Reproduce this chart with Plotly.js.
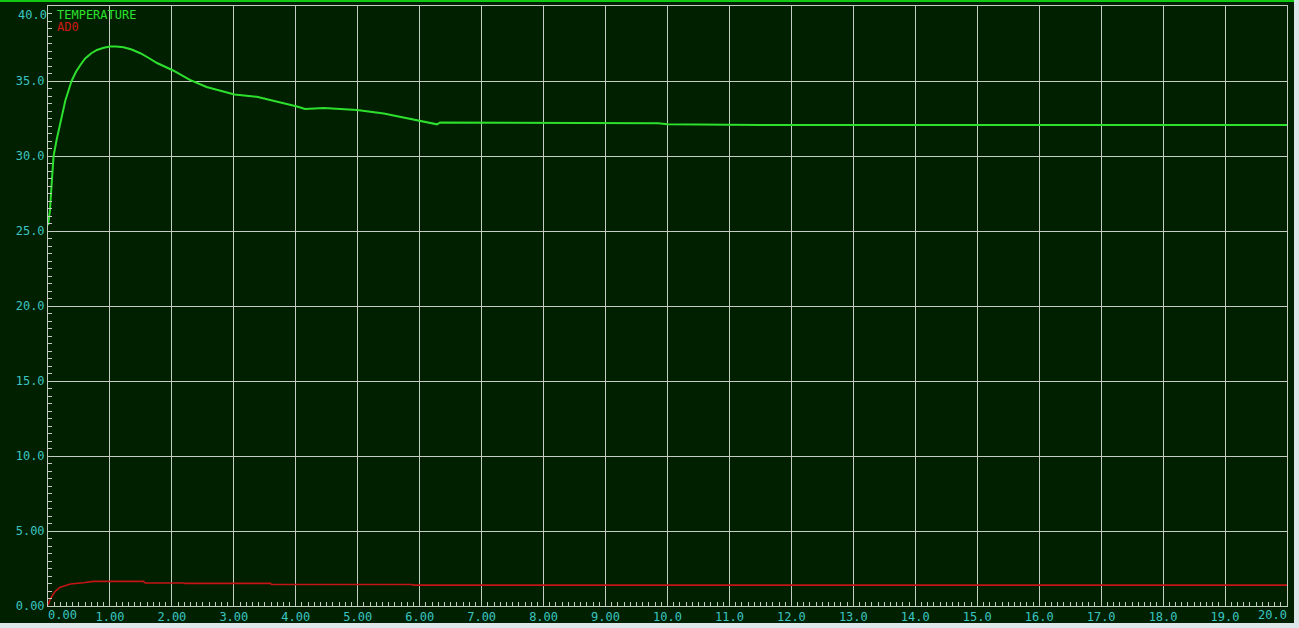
<!DOCTYPE html>
<html>
<head>
<meta charset="utf-8">
<script src="https://cdn.plot.ly/plotly-3.0.1.min.js"></script>
<style>
  html, body { margin: 0; padding: 0; background: #dde6e8; }
  #chart { width: 1294px; height: 621px; border-top: 2px solid #12c812; background: #002000; }
</style>
</head>
<body>
<div id="chart"></div>
<script>
// ---- data ----
const tempTime = [0, 0.03, 0.06, 0.09, 0.14, 0.2, 0.28, 0.38, 0.45, 0.52, 0.6, 0.7, 0.79, 0.9, 1.0, 1.1, 1.22, 1.35, 1.49, 1.62, 1.76, 2.02, 2.29, 2.56, 3.01, 3.37, 3.64, 4.02, 4.15, 4.45, 4.72, 4.99, 5.42, 6.01, 6.28, 6.33, 9.08, 9.4, 9.85, 10.0, 11.5, 20.0];
const tempVals = [25.4, 26.3, 28.2, 30.0, 31.1, 32.3, 33.7, 35.0, 35.6, 36.05, 36.5, 36.85, 37.07, 37.22, 37.3, 37.3, 37.25, 37.1, 36.85, 36.55, 36.2, 35.7, 35.07, 34.6, 34.1, 33.95, 33.7, 33.3, 33.13, 33.2, 33.13, 33.07, 32.84, 32.35, 32.11, 32.24, 32.23, 32.18, 32.18, 32.11, 32.07, 32.07];

const adTime = [0, 0.02, 0.06, 0.11, 0.19, 0.36, 0.57, 0.73, 1.54, 1.57, 2.19, 2.21, 3.59, 3.61, 5.88, 5.9, 20.0];
const adVals = [0.05, 0.3, 0.62, 0.95, 1.24, 1.47, 1.55, 1.64, 1.64, 1.53, 1.53, 1.51, 1.51, 1.43, 1.43, 1.39, 1.39];

const xTickVals = [1, 2, 3, 4, 5, 6, 7, 8, 9, 10, 11, 12, 13, 14, 15, 16, 17, 18, 19];
const xTickText = ["1.00", "2.00", "3.00", "4.00", "5.00", "6.00", "7.00", "8.00", "9.00", "10.0", "11.0", "12.0", "13.0", "14.0", "15.0", "16.0", "17.0", "18.0", "19.0"];
const xFirstVal = [0], xFirstText = ["0.00"];
const xLastVal = [20], xLastText = ["20.0"];

const yTickVals = [0, 5, 10, 15, 20, 25, 30, 35];
const yTickText = ["0.00", "5.00", "10.0", "15.0", "20.0", "25.0", "30.0", "35.0"];
const yTopVal = [40], yTopText = ["40.0"];

const seriesNames = ["TEMPERATURE", "AD0"];

// ---- styling ----
const BG = "#002000";
const GRID = "#c4ccc4";
const LABEL = "#3cc4c0";
const FONT = "DejaVu Sans Mono, Liberation Mono, monospace";
const tickFont = { family: FONT, size: 12, color: LABEL };

const traces = [
  { x: tempTime, y: tempVals, type: "scatter", mode: "lines", name: seriesNames[0],
    line: { color: "#2ee02e", width: 2 }, hoverinfo: "skip" },
  { x: adTime, y: adVals, type: "scatter", mode: "lines", name: seriesNames[1],
    line: { color: "#c41414", width: 1.6 }, hoverinfo: "skip" },
  { x: [], y: [], xaxis: "x2", yaxis: "y", showlegend: false, hoverinfo: "skip" },
  { x: [], y: [], xaxis: "x3", yaxis: "y", showlegend: false, hoverinfo: "skip" },
  { x: [], y: [], xaxis: "x", yaxis: "y2", showlegend: false, hoverinfo: "skip" }
];

const xRange = [0, 20];
const yRange = [0, 40];

const layout = {
  width: 1294, height: 621,
  margin: { l: 48, r: 7, t: 4, b: 17 },
  paper_bgcolor: BG, plot_bgcolor: BG,
  showlegend: false,
  xaxis: {
    range: xRange, tickmode: "array", tickvals: xTickVals, ticktext: xTickText,
    tickfont: tickFont, ticks: "inside", ticklen: 0,
    showgrid: true, gridcolor: GRID, gridwidth: 1,
    showline: true, linecolor: GRID, linewidth: 1, mirror: true,
    zeroline: false, fixedrange: true,
    minor: { dtick: 0.1, ticks: "inside", ticklen: 4, tickcolor: GRID, showgrid: false }
  },
  xaxis2: {
    overlaying: "x", range: xRange, tickmode: "array", tickvals: xFirstVal, ticktext: xFirstText,
    tickfont: tickFont, ticklabelposition: "outside right", ticks: "", showgrid: false,
    showline: false, zeroline: false, fixedrange: true
  },
  xaxis3: {
    overlaying: "x", range: xRange, tickmode: "array", tickvals: xLastVal, ticktext: xLastText,
    tickfont: tickFont, ticklabelposition: "outside left", ticks: "", showgrid: false,
    showline: false, zeroline: false, fixedrange: true
  },
  yaxis: {
    range: yRange, tickmode: "array", tickvals: yTickVals, ticktext: yTickText,
    tickfont: tickFont, ticks: "inside", ticklen: 0,
    showgrid: true, gridcolor: GRID, gridwidth: 1,
    showline: true, linecolor: GRID, linewidth: 1, mirror: true,
    zeroline: false, fixedrange: true,
    minor: { dtick: 0.5, ticks: "inside", ticklen: 4, tickcolor: GRID, showgrid: false }
  },
  yaxis2: {
    overlaying: "y", range: yRange, tickmode: "array", tickvals: yTopVal, ticktext: yTopText,
    tickfont: tickFont, ticklabelposition: "outside bottom", ticks: "", showgrid: false,
    showline: false, zeroline: false, fixedrange: true
  },
  annotations: [
    { xref: "paper", yref: "paper", x: 0.006, y: 1.0, xanchor: "left", yanchor: "top",
      text: seriesNames[0], showarrow: false, font: { family: FONT, size: 12, color: "#2ee02e" } },
    { xref: "paper", yref: "paper", x: 0.006, y: 0.98, xanchor: "left", yanchor: "top",
      text: seriesNames[1], showarrow: false, font: { family: FONT, size: 12, color: "#d01818" } }
  ]
};

Plotly.newPlot("chart", traces, layout, { displayModeBar: false, staticPlot: true });
</script>
</body>
</html>
